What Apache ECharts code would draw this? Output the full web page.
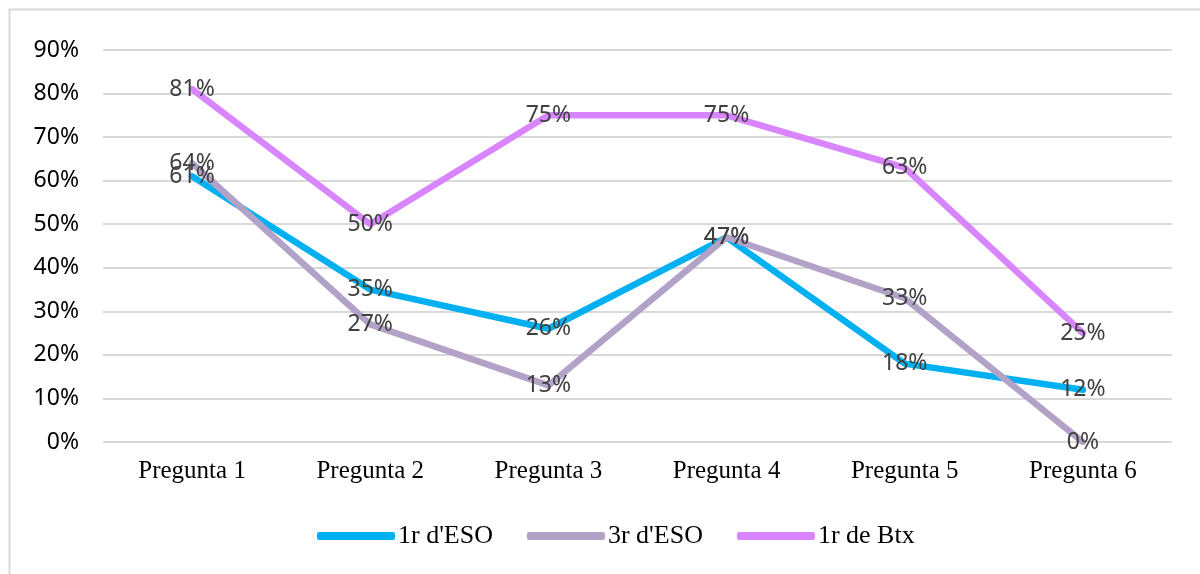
<!DOCTYPE html>
<html>
<head>
<meta charset="utf-8">
<script src="https://cdn.jsdelivr.net/npm/echarts@6/dist/echarts.min.js"></script>
<style>html,body{margin:0;padding:0;background:#fff}#c{width:1200px;height:574px}</style>
</head>
<body>
<div id="c"></div>
<script>
const categories = ['Pregunta 1','Pregunta 2','Pregunta 3','Pregunta 4','Pregunta 5','Pregunta 6'];
const seriesNames = ["1r d'ESO", "3r d'ESO", '1r de Btx'];
const eso1 = [61, 35, 26, 47, 18, 12];
const eso3 = [64, 27, 13, 47, 33, 0];
const btx1 = [81, 50, 75, 75, 63, 25];
const colors = ['#00B0F0', '#B3A2C7', '#D985FF'];

const chart = echarts.init(document.getElementById('c'), null, {renderer: 'canvas'});
const sansFont = '"Noto Sans", "Open Sans", sans-serif';
const serifFont = '"Liberation Serif", "DejaVu Serif", serif';
function mk(name, data, color) {
  return {
    name: name, type: 'line', data: data,
    symbol: 'circle', symbolSize: 0, showSymbol: true,
    lineStyle: {width: 6.5, color: color, cap: 'round', join: 'round'},
    itemStyle: {color: color},
    label: {show: true, position: 'inside', offset: [0, 3], formatter: '{c}%', color: '#404040',
      fontFamily: sansFont, fontSize: 23},
    labelLayout: {hideOverlap: false},
    emphasis: {disabled: true},
    z: 2
  };
}
chart.setOption({
  animation: false,
  backgroundColor: '#fff',
  graphic: [{type: 'rect', shape: {x: 9.5, y: 9.5, width: 1300, height: 700},
    style: {fill: 'none', stroke: '#D9D9D9', lineWidth: 2}, silent: true, z: -1}],
  grid: {left: 103, right: 28, top: 50, bottom: 132},
  legend: {
    top: 518, left: 312,
    itemWidth: 78, itemHeight: 8, itemGap: 34,
    data: seriesNames.map((n, i) => ({name: n, icon: 'roundRect', itemStyle: {color: colors[i]}})),
    textStyle: {fontFamily: serifFont, fontSize: 26, color: '#000', padding: [0, 0, 0, -2]}
  },
  xAxis: {
    type: 'category', data: categories, boundaryGap: true,
    axisLine: {show: false}, axisTick: {show: false},
    axisLabel: {fontFamily: serifFont, fontSize: 25, color: '#000', margin: 17}
  },
  yAxis: {
    type: 'value', min: 0, max: 90, interval: 10,
    axisLine: {show: false}, axisTick: {show: false},
    axisLabel: {formatter: '{value}%', fontFamily: sansFont, fontSize: 23, color: '#000', margin: 24},
    splitLine: {lineStyle: {color: '#D9D9D9', width: 2}}
  },
  series: [mk(seriesNames[0], eso1, colors[0]), mk(seriesNames[1], eso3, colors[1]), mk(seriesNames[2], btx1, colors[2])]
});
</script>
</body>
</html>
